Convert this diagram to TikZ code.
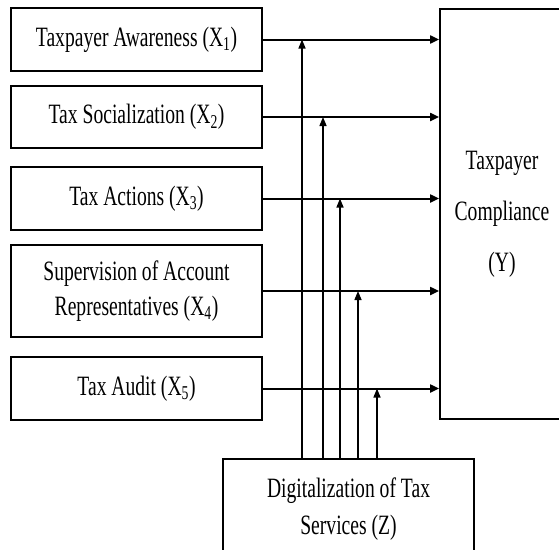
\documentclass[tikz,border=0pt]{standalone}
\usepackage{fontspec}
\setmainfont{Liberation Serif}[FakeStretch=0.7]
\usetikzlibrary{arrows.meta}
\tikzset{
  lbox/.style={draw, line width=2pt, minimum width=251pt, inner sep=0pt, align=center,
    font=\fontsize{28}{35}\selectfont},
  harrow/.style={line width=2pt, -{Triangle[length=9pt,width=8pt]}},
  varrow/.style={line width=1.4pt, -{Triangle[length=9pt,width=7pt]}},
}
\begin{document}
\begin{tikzpicture}[x=1pt,y=-1pt]
\useasboundingbox (0,0) rectangle (559,549);
\clip (0,0) rectangle (559,549);
\node[lbox, minimum height=63pt] (x1) at (136.5,39.5) {Taxpayer Awareness (X\textsubscript{1})};
\node[lbox, minimum height=62pt] (x2) at (136.5,117) {Tax Socialization (X\textsubscript{2})};
\node[lbox, minimum height=63pt] (x3) at (136.5,198.5) {Tax Actions (X\textsubscript{3})};
\node[lbox, minimum height=92pt] (x4) at (136.5,291) {Supervision of Account\\Representatives (X\textsubscript{4})};
\node[lbox, minimum height=63pt] (x5) at (136.5,388.5) {Tax Audit (X\textsubscript{5})};
\node[draw, line width=1.8pt, minimum width=124pt, minimum height=410pt, inner sep=0pt, align=center,
  font=\fontsize{28}{51}\selectfont] (y) at (502,214) {Taxpayer\\Compliance\\(Y)};
\node[draw, line width=2pt, minimum width=251pt, minimum height=100pt, inner sep=0pt, align=center,
  font=\fontsize{28}{37}\selectfont] (z) at (348.5,509) {Digitalization of Tax\\Services (Z)};
\foreach \i in {1,...,5} {
  \draw[harrow] (x\i.east) -- (x\i.east -| y.west);
}
\coordinate (v1) at (302,0);
\coordinate (v2) at (323,0);
\coordinate (v3) at (340,0);
\coordinate (v4) at (358,0);
\coordinate (v5) at (377,0);
\foreach \i in {1,...,5} {
  \draw[varrow] (v\i |- z.north) -- (v\i |- x\i.east);
}
\end{tikzpicture}
\end{document}
